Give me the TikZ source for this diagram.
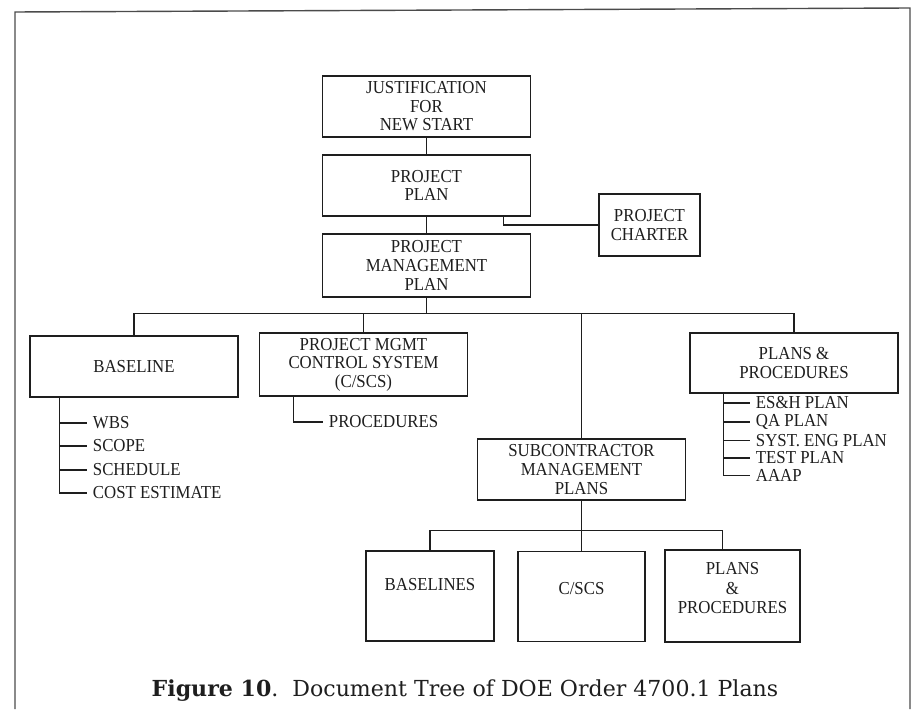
\documentclass[tikz,border=0pt]{standalone}
\usepackage{fontspec}
\setmainfont[FakeStretch=0.92]{Liberation Serif}
\newfontfamily\captionserif{DejaVu Serif}
\usepackage{xcolor}
\usepackage{tikz}
\usetikzlibrary{
    positioning,
    calc
}
\definecolor{inkcolor}{HTML}{1E1E1E}
\tikzset{
    docbox/.style={
        rectangle, draw=inkcolor, line width=0.9pt,
        minimum width=5.2cm, minimum height=1.53cm,
        align=center, inner sep=2pt, text=inkcolor,
        font=\fontsize{13}{13.2}\selectfont
    },
    docbox small/.style={
        docbox, minimum width=3.2cm, minimum height=2.25cm
    },
    item/.style={
        anchor=west, inner xsep=4pt, inner ysep=0pt, text=inkcolor,
        font=\fontsize{13}{13.2}\selectfont
    },
    tree line/.style={
        draw=inkcolor, line width=0.9pt
    },
    frame line/.style={
        draw=inkcolor!80, line width=1pt
    },
}

\begin{document}
\begin{tikzpicture}[x=0.025cm, y=-0.025cm]

    \useasboundingbox (0,0) rectangle (919,709);
    \draw[frame line] (15,709) -- (15,12) -- (910,8) -- (910,709);

    % Top chain
    \node[docbox] (just) at (426.5,106.5) {JUSTIFICATION\\FOR\\NEW START};
    \node[docbox] (pplan) at (426.5,185.5) {PROJECT\\PLAN};
    \node[docbox, minimum height=1.58cm] (pmp) at (426.5,265.5) {PROJECT\\MANAGEMENT\\PLAN};
    \node[docbox, minimum width=2.53cm, minimum height=1.55cm] (charter) at (649.5,225) {PROJECT\\CHARTER};

    \draw[tree line] (just) -- (pplan);
    \draw[tree line] (pplan) -- (pmp);
    \draw[tree line] ([xshift=-0.7cm]pplan.south east) |- (charter.west);

    % Second level
    \node[docbox] (baseline) at (134,366.5) {BASELINE};
    \node[docbox, minimum height=1.58cm] (pmcs) at (363.5,364.5) {PROJECT MGMT\\CONTROL SYSTEM\\(C/SCS)};
    \node[docbox] (subcon) at (581.5,469.5) {SUBCONTRACTOR\\MANAGEMENT\\PLANS};
    \node[docbox, minimum height=1.5cm] (pandp) at (794,363) {PLANS \&\\PROCEDURES};

    \coordinate (bus) at ($(pmp.south)+(0,16)$);
    \draw[tree line] (pmp.south) -- (bus);
    \draw[tree line] (baseline.north) |- (bus) -| (pandp.north);
    \draw[tree line] (pmcs.north) -- (pmcs.north |- bus);
    \draw[tree line] (subcon.north) -- (subcon.north |- bus);

    % Baseline contents
    \node[item] (wbs) at (87,423) {WBS};
    \node[item] (scope) at (87,446) {SCOPE};
    \node[item] (sched) at (87,470) {SCHEDULE};
    \node[item] (cost) at (87,493) {COST ESTIMATE};
    \coordinate (btrunk) at ([xshift=0.75cm]baseline.south west);
    \draw[tree line] (btrunk) |- (cost.west);
    \draw[tree line] (btrunk |- wbs.west) -- (wbs.west);
    \draw[tree line] (btrunk |- scope.west) -- (scope.west);
    \draw[tree line] (btrunk |- sched.west) -- (sched.west);

    % C/SCS contents
    \node[item] (procs) at (323,422) {PROCEDURES};
    \draw[tree line] ([xshift=0.875cm]pmcs.south west) |- (procs.west);

    % Plans and procedures contents
    \node[item] (esh) at (750,403) {ES\&H PLAN};
    \node[item] (qa) at (750,422) {QA PLAN};
    \node[item] (syst) at (750,440.5) {SYST. ENG PLAN};
    \node[item] (test) at (750,458) {TEST PLAN};
    \node[item] (aaap) at (750,475.5) {AAAP};
    \coordinate (ptrunk) at ([xshift=0.85cm]pandp.south west);
    \draw[tree line] (ptrunk) |- (aaap.west);
    \draw[tree line] (ptrunk |- esh.west) -- (esh.west);
    \draw[tree line] (ptrunk |- qa.west) -- (qa.west);
    \draw[tree line] (ptrunk |- syst.west) -- (syst.west);
    \draw[tree line] (ptrunk |- test.west) -- (test.west);

    % Subcontractor level
    \node[docbox small, text depth=0.6cm] (baselines) at (430,596) {BASELINES};
    \node[docbox small, minimum width=3.18cm, text depth=0.4cm] (cscs) at (581.5,596.5) {C/SCS};
    \node[docbox small, minimum width=3.38cm, minimum height=2.3cm, text depth=0.4cm,
          font=\fontsize{13}{14}\selectfont] (subpp) at (732.5,596) {PLANS\\\&\\PROCEDURES};

    \coordinate (subbus) at ($(subcon.south)+(0,30)$);
    \draw[tree line] (subcon) -- (cscs);
    \draw[tree line] (baselines.north) |- (subbus) -| ([xshift=-0.25cm]subpp.north);

    % Caption
    \node[anchor=base, text=inkcolor, inner sep=0pt,
          font=\captionserif\fontsize{15.7}{18}\selectfont] (caption) at (465,696)
        {\textbf{Figure 10}.\ \ Document Tree of DOE Order 4700.1 Plans};

\end{tikzpicture}
\end{document}
